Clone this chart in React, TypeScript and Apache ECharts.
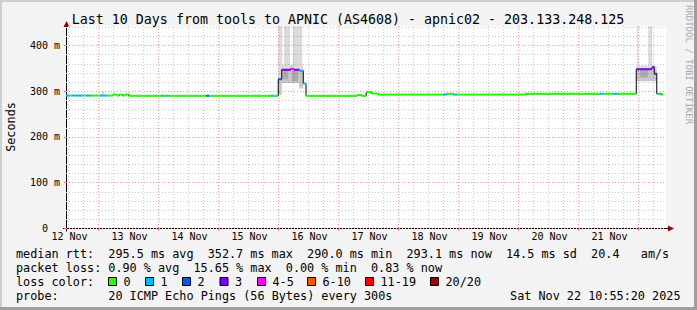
import React, { useEffect, useRef } from "react";
import * as echarts from "echarts";

const FONT = "'DejaVu Sans Mono', monospace";

// x axis: hours after 12 Nov 00:00 local time
const X_MIN = 11.2;
const X_MAX = 251.2;
const Y_MAX = 442.6;
const DATA_END = 250.0;

const titleText = "Last 10 Days from tools to APNIC (AS4608) - apnic02 - 203.133.248.125";
const dayLabels = ["12 Nov", "13 Nov", "14 Nov", "15 Nov", "16 Nov", "17 Nov", "18 Nov", "19 Nov", "20 Nov", "21 Nov"];
const dayLabelHours = [12, 36, 60, 84, 108, 132, 156, 180, 204, 228];
const midnightHours = [24, 48, 72, 96, 120, 144, 168, 192, 216, 240];
const yLabelValues = [0, 100, 200, 300, 400];
const yLabelTexts = ["0", "100 m", "200 m", "300 m", "400 m"];

// median rtt steps: start hour, rtt (ms), loss class index
const stepStart = [11.2, 12.8, 13.8, 18.0, 19.4, 21.6, 24.8, 27.6, 30.0, 31.6, 32.6, 33.8, 34.8, 36.2, 49.4, 50.4, 51.4, 52.2, 67.4, 68.4, 93.2, 94.0, 96.1, 97.5, 101.1, 102.4, 104.5, 106.1, 107.2, 127.6, 129.4, 131.3, 133.5, 136.1, 162.1, 163.5, 166.1, 167.5, 194.8, 224.8, 226.0, 230.4, 231.8, 239.3, 245.6, 246.5, 247.5, 248.8];
const stepRtt = [290.5, 290.5, 290.5, 290.5, 290.5, 290.5, 290.5, 290.5, 292.8, 290.5, 292.8, 290.5, 292.8, 290.3, 290.3, 290.3, 290.3, 290.3, 290.3, 290.3, 290.0, 290.0, 326, 347, 349, 347, 345, 317, 290.0, 292.0, 290.0, 298.0, 295.0, 292.7, 292.7, 294.5, 292.7, 292.7, 294.3, 294.5, 294.5, 294.5, 294.5, 348, 352.7, 338.5, 294.5, 293.1];
const stepLoss = [1, 0, 1, 0, 1, 0, 1, 0, 0, 0, 0, 0, 0, 0, 1, 0, 1, 0, 2, 0, 1, 0, 2, 3, 4, 3, 1, 1, 0, 0, 0, 0, 0, 0, 1, 0, 1, 0, 0, 1, 0, 1, 0, 3, 3, 3, 1, 0];

// smoke (ping spread) blocks
const smokeStart = [96.1, 98.4, 101.9, 96.1, 97.5, 96.1, 97.5, 98.0, 101.6, 104.5, 239.6, 244.1, 239.3, 239.3, 240.8, 25.5, 35.5, 185.2];
const smokeEnd = [97.7, 100.8, 105.7, 97.5, 106.1, 97.5, 106.1, 100.0, 104.0, 106.1, 240.1, 245.7, 247.5, 247.5, 244.0, 26.4, 37.5, 186.0];
const smokeLow = [358, 358, 358, 326, 347, 292, 318, 326, 322, 306, 356, 356, 348, 322, 330, 290, 290, 292];
const smokeHigh = [442, 442, 442, 358, 358, 326, 347, 345, 345, 318, 442, 442, 356, 348, 346, 300, 294, 296];
const smokeLevel = [0, 0, 0, 0, 0, 1, 1, 2, 2, 1, 0, 0, 0, 1, 2, 0, 0, 0];

const lossLabels = ["0", "1", "2", "3", "4-5", "6-10", "11-19", "20/20"];
const lossColors = ["#26ff00", "#00b8ff", "#0059ff", "#7e00ff", "#ff00ff", "#ff5500", "#ff0000", "#a10000"];

const rttLegend: [string, number][] = [["median rtt:", 0], ["295.5 ms avg", 13], ["352.7 ms max", 27], ["290.0 ms min", 41], ["293.1 ms now", 55], ["14.5 ms sd", 69], ["20.4", 81], ["am/s", 88]];
const lossLegend: [string, number][] = [["packet loss:", 0], ["0.90 % avg", 13], ["15.65 % max", 25], ["0.00 % min", 38], ["0.83 % now", 50]];
const probeLegend: [string, number][] = [["probe:", 0], ["20 ICMP Echo Pings (56 Bytes) every 300s", 13]];
const footerDate = "Sat Nov 22 10:55:20 2025";

const smokeFill = ["rgba(0,0,0,0.14)", "rgba(0,0,0,0.22)", "rgba(0,0,0,0.14)"];
const MAJOR = "#f5a0a0";
const MINOR = "#c8c8c8";

export default function App() {
  const ref = useRef<HTMLDivElement>(null);
  useEffect(() => {
    const chart = echarts.init(ref.current!, null, { renderer: "svg", width: 697, height: 310 });

    const minorX: number[] = [];
    for (let h = 12; h <= 250; h += 6) if (h % 24 !== 0) minorX.push(h);
    const minorY: number[] = [];
    for (let v = 20; v <= 440; v += 20) if (v % 100 !== 0) minorY.push(v);

    const n = stepStart.length;
    const segs = stepStart.map((s, i) => [s, i + 1 < n ? stepStart[i + 1] : DATA_END, stepRtt[i], stepLoss[i]]);
    const stepLine = stepStart.map((s, i) => [s, stepRtt[i]]);
    stepLine.push([DATA_END, stepRtt[n - 1]]);
    const smoke = smokeStart.map((s, i) => [s, smokeEnd[i], smokeLow[i], smokeHigh[i], smokeLevel[i]]);

    const LX = 16, CW = 7.1, FS = 11.8;
    const txt = (text: string, x: number, y: number, extra: any = {}) => ({
      type: "text", x, y, silent: true,
      style: { text, fontFamily: FONT, fontSize: FS, fill: "#000", align: "left", verticalAlign: "middle", ...extra },
    });
    const graphics: any[] = [];
    // frame
    graphics.push({ type: "rect", shape: { x: 0, y: 0, width: 697, height: 2 }, style: { fill: "#cfcfcf" }, silent: true });
    graphics.push({ type: "rect", shape: { x: 0, y: 0, width: 2, height: 310 }, style: { fill: "#cfcfcf" }, silent: true });
    graphics.push({ type: "rect", shape: { x: 0, y: 307, width: 697, height: 3 }, style: { fill: "#9e9e9e" }, silent: true });
    graphics.push({ type: "rect", shape: { x: 694, y: 0, width: 3, height: 310 }, style: { fill: "#9e9e9e" }, silent: true });
    // title
    graphics.push(txt(titleText, 348, 19.5, { fontSize: 13.3, align: "center" }));
    // y name
    graphics.push({ ...txt("Seconds", 10.5, 127, { align: "center" }), rotation: Math.PI / 2 });
    // watermark
    graphics.push({ ...txt("RRDTOOL / TOBI OETIKER", 688.5, 64.5, { align: "center", fontSize: 9, fill: "#a8a8a8" }), rotation: -Math.PI / 2 });
    // legend lines
    const rows = [254.2, 268.1, 282.0, 295.9];
    rttLegend.forEach(([t, i]) => graphics.push(txt(t, LX + i * CW, rows[0])));
    lossLegend.forEach(([t, i]) => graphics.push(txt(t, LX + i * CW, rows[1])));
    graphics.push(txt("loss color:", LX, rows[2]));
    const sqX = [108.5, 145.5, 182.5, 220, 257.5, 307.5, 365.5, 430.5];
    lossLabels.forEach((l, i) => {
      graphics.push({ type: "rect", silent: true, shape: { x: sqX[i], y: 277.5, width: 8, height: 8 }, style: { fill: lossColors[i], stroke: "#000", lineWidth: 1 } });
      graphics.push(txt(l, sqX[i] + 15, rows[2]));
    });
    probeLegend.forEach(([t, i]) => graphics.push(txt(t, LX + i * CW, rows[3])));
    graphics.push(txt(footerDate, 680.5, rows[3], { align: "right" }));
    // axis extensions and arrows
    graphics.push({ type: "line", silent: true, shape: { x1: 63, y1: 228.5, x2: 668, y2: 228.5 }, style: { stroke: "#000", lineWidth: 1 } });
    graphics.push({ type: "line", silent: true, shape: { x1: 66.5, y1: 231.5, x2: 66.5, y2: 26 }, style: { stroke: "#000", lineWidth: 1 } });
    graphics.push({ type: "polygon", silent: true, shape: { points: [[668, 225.5], [668, 231.5], [674, 228.5]] }, style: { fill: "#9b0000" } });
    graphics.push({ type: "polygon", silent: true, shape: { points: [[63.5, 27], [69.5, 27], [66.5, 21]] }, style: { fill: "#9b0000" } });

    const option: any = {
      animation: false,
      backgroundColor: "#f3f3f3",
      grid: { left: 66, top: 26, width: 600, height: 202.5, show: true, backgroundColor: "#ffffff", borderWidth: 0, outerBoundsMode: "none" },
      xAxis: [
        {
          type: "value", min: X_MIN, max: X_MAX,
          axisLine: { show: false },
          axisTick: { show: true, customValues: midnightHours, length: 2, inside: false, lineStyle: { color: "#ff6060" } },
          axisLabel: {
            customValues: dayLabelHours, margin: 3, fontFamily: FONT, fontSize: 10, color: "#000", padding: [0, 0, 0, 3],
            formatter: (v: number) => { const i = dayLabelHours.indexOf(Math.round(v)); return i >= 0 ? dayLabels[i] : ""; },
          },
          splitLine: { show: true, lineStyle: { color: MAJOR, width: 1, type: [1, 2] } },
        },
        {
          type: "value", min: X_MIN, max: X_MAX, position: "bottom",
          axisLine: { show: false }, axisTick: { show: false, customValues: minorX }, axisLabel: { show: false },
          splitLine: { show: true, lineStyle: { color: MINOR, width: 1, type: [1, 2] } },
        },
      ],
      yAxis: [
        {
          type: "value", min: 0, max: Y_MAX,
          axisLine: { show: false },
          axisTick: { show: true, customValues: yLabelValues, length: 2, lineStyle: { color: "#ff6060" } },
          axisLabel: {
            customValues: yLabelValues, margin: 6, fontFamily: FONT, fontSize: 10, color: "#000",
            formatter: (v: number) => { const i = yLabelValues.indexOf(Math.round(v)); return i === 0 ? "{z|0}" : i > 0 ? yLabelTexts[i] : ""; },
            rich: { z: { fontFamily: FONT, fontSize: 10, color: "#000", padding: [0, 12, 0, 0] } },
          },
          splitLine: { show: true, lineStyle: { color: MAJOR, width: 1, type: [1, 2] } },
        },
        {
          type: "value", min: 0, max: Y_MAX, position: "left",
          axisLine: { show: false }, axisTick: { show: false, customValues: minorY }, axisLabel: { show: false },
          splitLine: { show: true, lineStyle: { color: MINOR, width: 1, type: [1, 2] } },
        },
      ],
      graphic: graphics,
      series: [
        {
          type: "custom", xAxisIndex: 0, yAxisIndex: 0, silent: true, clip: true, z: 1,
          encode: { x: [0, 1], y: [2, 3] },
          data: smoke,
          renderItem: (_p: any, api: any) => {
            const a = api.coord([api.value(0), api.value(3)]);
            const b = api.coord([api.value(1), api.value(2)]);
            return { type: "rect", shape: { x: a[0], y: a[1], width: b[0] - a[0], height: b[1] - a[1] }, style: { fill: smokeFill[api.value(4)] } };
          },
        },
        {
          type: "line", xAxisIndex: 0, yAxisIndex: 0, silent: true, z: 2,
          step: "end", showSymbol: false, symbol: "none",
          lineStyle: { color: "#000", width: 1 },
          data: stepLine,
        },
        {
          type: "custom", xAxisIndex: 0, yAxisIndex: 0, silent: true, clip: true, z: 3,
          encode: { x: [0, 1], y: 2 },
          data: segs,
          renderItem: (_p: any, api: any) => {
            const a = api.coord([api.value(0), api.value(2)]);
            const b = api.coord([api.value(1), api.value(2)]);
            return { type: "line", shape: { x1: a[0], y1: a[1], x2: b[0], y2: b[1] }, style: { stroke: lossColors[api.value(3)], lineWidth: 2 } };
          },
        },
      ],
    };
    chart.setOption(option);
    return () => chart.dispose();
  }, []);
  return <div ref={ref} style={{ position: "absolute", left: 0, top: 0, width: 697, height: 310 }} />;
}
